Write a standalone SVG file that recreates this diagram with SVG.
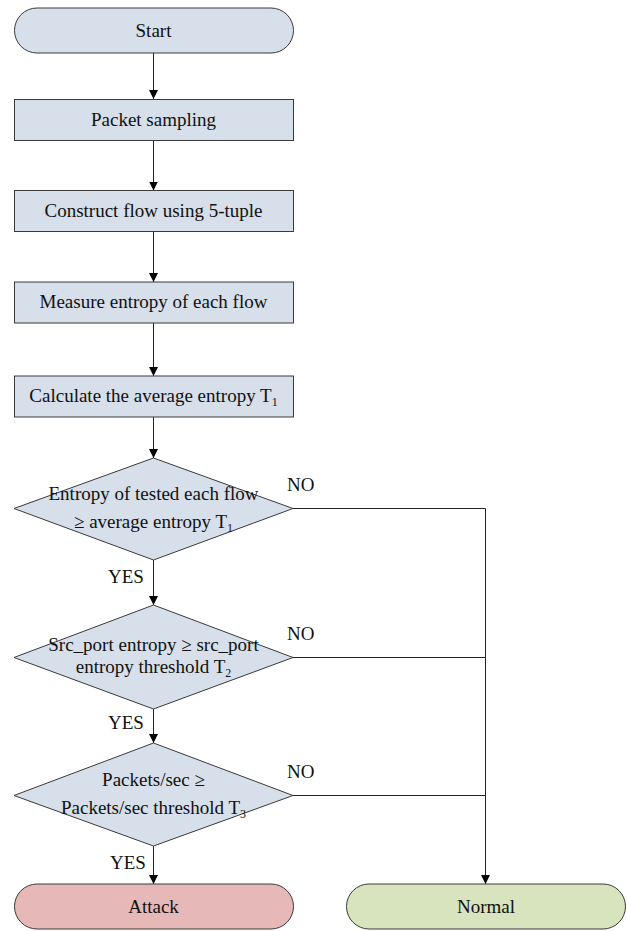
<svg xmlns="http://www.w3.org/2000/svg" width="627" height="931" viewBox="0 0 627 931">
<style>
.box{fill:#d6dfea;stroke:#3a3a3a;stroke-width:1}
.attack{fill:#e6b9b8;stroke:#3a3a3a;stroke-width:1}
.normal{fill:#d8e4bd;stroke:#3a3a3a;stroke-width:1}
.c{fill:none;stroke:#222;stroke-width:1}
text{font-family:"Liberation Serif","Times New Roman",serif;font-size:19px;fill:#111}
.m{text-anchor:middle}
.sub{font-size:12px}
</style>
<defs>
<marker id="ah" markerWidth="10" markerHeight="12" refX="9" refY="6" orient="auto" markerUnits="userSpaceOnUse">
<path d="M0,1.5 L9,6 L0,10.5 Z" fill="#000"/>
</marker>
</defs>
<g id="connectors">
<line class="c" x1="153.5" y1="53" x2="153.5" y2="99" marker-end="url(#ah)"/>
<line class="c" x1="153.5" y1="140" x2="153.5" y2="190.5" marker-end="url(#ah)"/>
<line class="c" x1="153.5" y1="231.5" x2="153.5" y2="282" marker-end="url(#ah)"/>
<line class="c" x1="153.5" y1="323" x2="153.5" y2="376" marker-end="url(#ah)"/>
<line class="c" x1="153.5" y1="417" x2="153.5" y2="458" marker-end="url(#ah)"/>
<line class="c" x1="153.5" y1="560" x2="153.5" y2="605" marker-end="url(#ah)"/>
<line class="c" x1="153.5" y1="709" x2="153.5" y2="743" marker-end="url(#ah)"/>
<line class="c" x1="153.5" y1="846" x2="153.5" y2="884" marker-end="url(#ah)"/>
<polyline class="c" points="293,508.5 485.5,508.5 485.5,884" marker-end="url(#ah)"/>
<line class="c" x1="293" y1="657.5" x2="485.5" y2="657.5"/>
<line class="c" x1="293" y1="795.5" x2="485.5" y2="795.5"/>
<text x="287" y="491">NO</text>
<text x="287" y="640">NO</text>
<text x="287" y="778">NO</text>
<text x="108" y="583">YES</text>
<text x="108" y="729">YES</text>
<text x="110" y="869">YES</text>
</g>
<g id="start">
<rect class="box" x="14.5" y="8" width="279" height="45" rx="22.5"/>
<text class="m" x="153.5" y="37">Start</text>
</g>
<g id="packet-sampling">
<rect class="box" x="14.5" y="99.5" width="279" height="41"/>
<text class="m" x="153.5" y="126">Packet sampling</text>
</g>
<g id="construct-flow">
<rect class="box" x="14.5" y="190.5" width="279" height="41"/>
<text class="m" x="153.5" y="217">Construct flow using 5-tuple</text>
</g>
<g id="measure-entropy">
<rect class="box" x="14.5" y="282" width="279" height="41"/>
<text class="m" x="153.5" y="308">Measure entropy of each flow</text>
</g>
<g id="calculate-average">
<rect class="box" x="14.5" y="376" width="279" height="41"/>
<text class="m" x="153.5" y="402">Calculate the average entropy T<tspan class="sub" dy="4">1</tspan></text>
</g>
<g id="decision-entropy">
<polygon class="box" points="153.5,458 293,508.5 153.5,560 14,508.5"/>
<text class="m" x="153.5" y="500">Entropy of tested each flow</text>
<text class="m" x="153.5" y="528">≥ average entropy T<tspan class="sub" dy="4">1</tspan></text>
</g>
<g id="decision-srcport">
<polygon class="box" points="153.5,605 293,657.5 153.5,709 14,657.5"/>
<text class="m" x="153.5" y="651">Src_port entropy ≥ src_port</text>
<text class="m" x="153.5" y="673">entropy threshold T<tspan class="sub" dy="4">2</tspan></text>
</g>
<g id="decision-packets">
<polygon class="box" points="153.5,743 293,795.5 153.5,846 14,795.5"/>
<text class="m" x="153.5" y="786">Packets/sec ≥</text>
<text class="m" x="153.5" y="814">Packets/sec threshold T<tspan class="sub" dy="4">3</tspan></text>
</g>
<g id="attack">
<rect class="attack" x="14.5" y="884" width="279" height="45" rx="22.5"/>
<text class="m" x="153.5" y="913">Attack</text>
</g>
<g id="normal">
<rect class="normal" x="346.5" y="884" width="279" height="45" rx="22.5"/>
<text class="m" x="486" y="913">Normal</text>
</g>
</svg>
